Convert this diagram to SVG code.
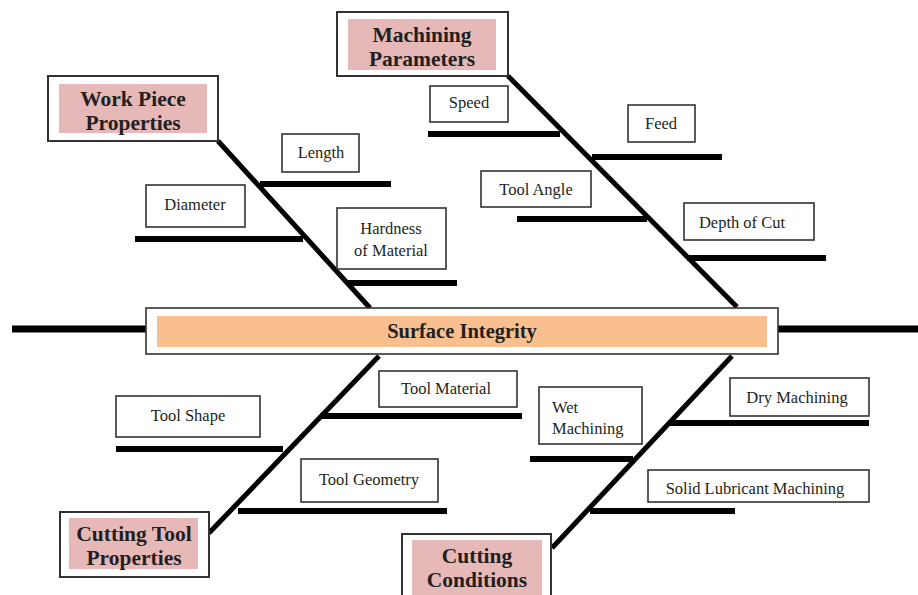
<svg xmlns="http://www.w3.org/2000/svg" width="918" height="595" viewBox="0 0 918 595">
<style>
.box{fill:#fff;stroke:#333;stroke-width:1.6}
.cat{fill:#fff;stroke:#333;stroke-width:2}
.pink{fill:#e6b9b8}
.orange{fill:#f9bf8f}
.ct{font-family:"Liberation Serif",serif;font-weight:bold;font-size:21.5px;fill:#231f20;text-anchor:middle}
.lt{font-family:"Liberation Serif",serif;font-size:16.5px;fill:#231f20;text-anchor:middle}
.bone{stroke:#000;stroke-width:5;fill:none}
.rib{stroke:#000;stroke-width:6;fill:none}
.spine{stroke:#000;stroke-width:7;fill:none}
</style>
<rect width="918" height="595" fill="#fff"/>
<g id="connectors">
<line class="spine" x1="12" y1="329" x2="146" y2="329"/>
<line class="spine" x1="778" y1="329" x2="918" y2="329"/>
<line class="bone" x1="218" y1="141" x2="370" y2="308"/>
<line class="bone" x1="508" y1="76" x2="737" y2="307"/>
<line class="bone" x1="379" y1="356" x2="209" y2="533"/>
<line class="bone" x1="732" y1="356" x2="552" y2="548"/>
<line class="rib" x1="260" y1="184" x2="391" y2="184"/>
<line class="rib" x1="135" y1="239" x2="303" y2="239"/>
<line class="rib" x1="347" y1="283" x2="457" y2="283"/>
<line class="rib" x1="428" y1="134" x2="560" y2="134"/>
<line class="rib" x1="592" y1="157" x2="722" y2="157"/>
<line class="rib" x1="517" y1="219" x2="647" y2="219"/>
<line class="rib" x1="687" y1="258" x2="826" y2="258"/>
<line class="rib" x1="320" y1="416" x2="522" y2="416"/>
<line class="rib" x1="116" y1="449" x2="283" y2="449"/>
<line class="rib" x1="238" y1="511" x2="447" y2="511"/>
<line class="rib" x1="530" y1="459" x2="633" y2="459"/>
<line class="rib" x1="670" y1="423" x2="869" y2="423"/>
<line class="rib" x1="590" y1="511" x2="735" y2="511"/>
</g>
<g id="surface-integrity">
<rect class="box" x="146" y="308" width="632" height="46"/>
<rect class="orange" x="157" y="316" width="610" height="31"/>
<text class="ct" x="462" y="338" style="font-size:20.5px">Surface Integrity</text>
</g>
<g id="work-piece-properties">
<rect class="cat" x="48" y="76" width="170" height="65"/>
<rect class="pink" x="59" y="84" width="148" height="49"/>
<text class="ct" x="133" y="106">Work Piece</text>
<text class="ct" x="133" y="130">Properties</text>
</g>
<g id="machining-parameters">
<rect class="cat" x="337" y="12" width="171" height="64"/>
<rect class="pink" x="348" y="19" width="148" height="51"/>
<text class="ct" x="422" y="42">Machining</text>
<text class="ct" x="422" y="66">Parameters</text>
</g>
<g id="cutting-tool-properties">
<rect class="cat" x="60" y="512" width="149" height="65"/>
<rect class="pink" x="69" y="518" width="129" height="51"/>
<text class="ct" x="134" y="541">Cutting Tool</text>
<text class="ct" x="134" y="565">Properties</text>
</g>
<g id="cutting-conditions">
<rect class="cat" x="402" y="534" width="149" height="70"/>
<rect class="pink" x="412" y="540" width="130" height="60"/>
<text class="ct" x="477" y="563">Cutting</text>
<text class="ct" x="477" y="587">Conditions</text>
</g>
<g id="length">
<rect class="box" x="282" y="134" width="77" height="38"/>
<text class="lt" x="321" y="158">Length</text>
</g>
<g id="diameter">
<rect class="box" x="146" y="185" width="99" height="42"/>
<text class="lt" x="195" y="210">Diameter</text>
</g>
<g id="hardness">
<rect class="box" x="337" y="208" width="109" height="61"/>
<text class="lt" x="391" y="234">Hardness</text>
<text class="lt" x="391" y="256">of Material</text>
</g>
<g id="speed">
<rect class="box" x="430" y="86" width="78" height="36"/>
<text class="lt" x="469" y="108">Speed</text>
</g>
<g id="feed">
<rect class="box" x="628" y="105" width="67" height="37"/>
<text class="lt" x="661" y="129">Feed</text>
</g>
<g id="tool-angle">
<rect class="box" x="481" y="171" width="110" height="36"/>
<text class="lt" x="536" y="195">Tool Angle</text>
</g>
<g id="depth-of-cut">
<rect class="box" x="684" y="203" width="130" height="37"/>
<text class="lt" x="742" y="228">Depth of Cut</text>
</g>
<g id="tool-material">
<rect class="box" x="379" y="371" width="138" height="36"/>
<text class="lt" x="446" y="394">Tool Material</text>
</g>
<g id="tool-shape">
<rect class="box" x="116" y="396" width="144" height="41"/>
<text class="lt" x="188" y="421">Tool Shape</text>
</g>
<g id="tool-geometry">
<rect class="box" x="301" y="459" width="137" height="43"/>
<text class="lt" x="369" y="485">Tool Geometry</text>
</g>
<g id="wet-machining">
<rect class="box" x="539" y="387" width="103" height="57"/>
<text class="lt" x="552" y="413" style="text-anchor:start">Wet</text>
<text class="lt" x="552" y="434" style="text-anchor:start">Machining</text>
</g>
<g id="dry-machining">
<rect class="box" x="730" y="378" width="139" height="38"/>
<text class="lt" x="797" y="403">Dry Machining</text>
</g>
<g id="solid-lubricant">
<rect class="box" x="648" y="470" width="221" height="32"/>
<text class="lt" x="755" y="494">Solid Lubricant Machining</text>
</g>
</svg>
